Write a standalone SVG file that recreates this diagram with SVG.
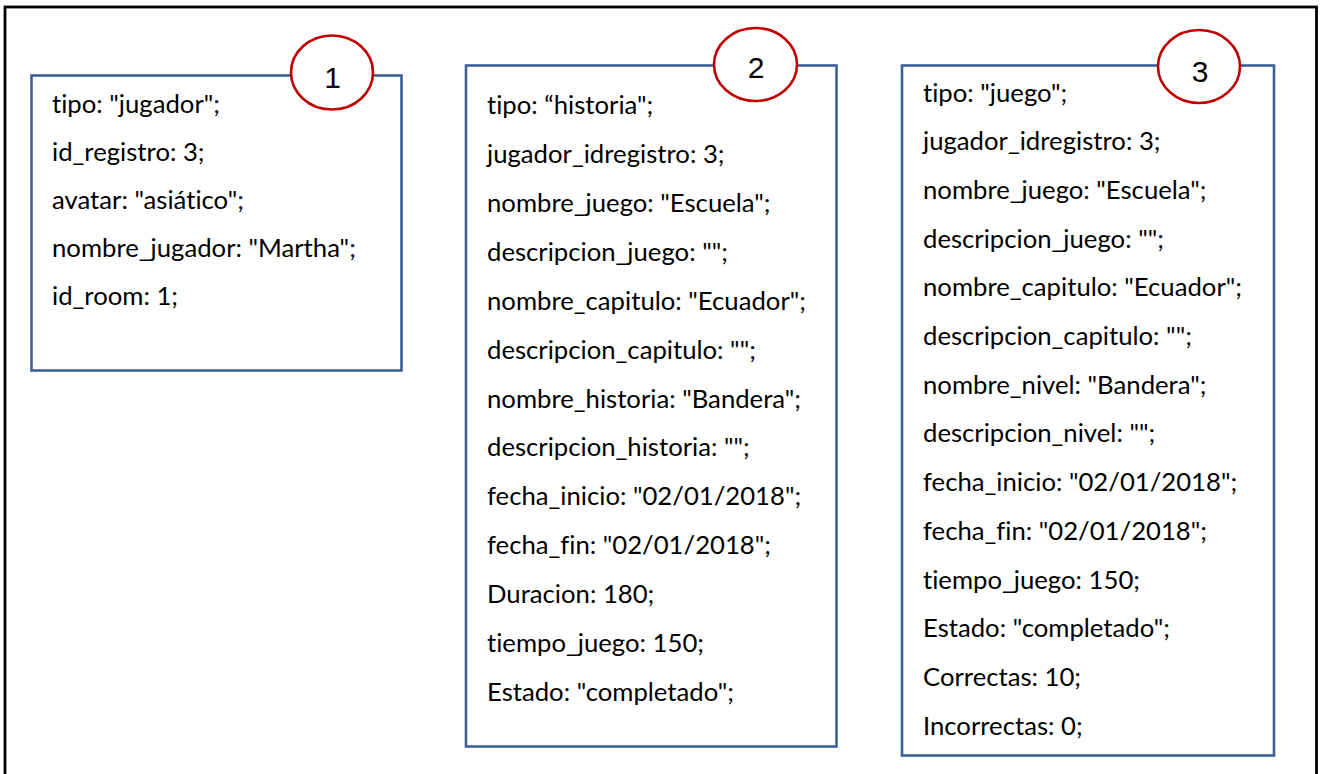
<svg xmlns="http://www.w3.org/2000/svg" width="1324" height="774" viewBox="0 0 1324 774">
  <style>
    .frame { fill: none; stroke: #000; stroke-width: 2.8; }
    .card { fill: #fff; stroke: #3d5f9c; stroke-width: 2.6; }
    .badge { fill: #fff; stroke: #c00000; stroke-width: 2.6; }
    .field { font-family: Lato, "Liberation Sans", sans-serif; font-size: 25.7px; fill: #000;
             font-variant-ligatures: none; font-feature-settings: "liga" 0, "clig" 0; }
    .num { font-family: "Liberation Sans", Arial, sans-serif; font-size: 30px; fill: #000; text-anchor: middle; }
  </style>

  <rect width="1324" height="774" fill="#fff"/>
  <rect class="frame" x="5" y="7" width="1311.5" height="800"/>

  <g id="node-jugador">
    <rect class="card" x="31.5" y="75.5" width="370" height="295"/>
    <ellipse class="badge" cx="332" cy="72.5" rx="41" ry="37"/>
    <text class="num" x="332.5" y="88">1</text>
    <text class="field" x="52">
      <tspan x="52" y="113">tipo: "jugador";</tspan>
      <tspan x="52" y="161">id_registro: 3;</tspan>
      <tspan x="52" y="209">avatar: "asiático";</tspan>
      <tspan x="52" y="257">nombre_jugador: "Martha";</tspan>
      <tspan x="52" y="305">id_room: 1;</tspan>
    </text>
  </g>

  <g id="node-historia">
    <rect class="card" x="466" y="65.5" width="370.5" height="681"/>
    <ellipse class="badge" cx="755.5" cy="64.5" rx="41.5" ry="36.5"/>
    <text class="num" x="756" y="77.5">2</text>
    <text class="field" x="487">
      <tspan x="487" y="114">tipo: “historia";</tspan>
      <tspan x="487" y="163">jugador_idregistro: 3;</tspan>
      <tspan x="487" y="212">nombre_juego: "Escuela";</tspan>
      <tspan x="487" y="260.5">descripcion_juego: "";</tspan>
      <tspan x="487" y="309.5">nombre_capitulo: "Ecuador";</tspan>
      <tspan x="487" y="358.5">descripcion_capitulo: "";</tspan>
      <tspan x="487" y="407.5">nombre_historia: "Bandera";</tspan>
      <tspan x="487" y="456">descripcion_historia: "";</tspan>
      <tspan x="487" y="505">fecha_inicio: "02/01/2018";</tspan>
      <tspan x="487" y="554">fecha_fin: "02/01/2018";</tspan>
      <tspan x="487" y="603">Duracion: 180;</tspan>
      <tspan x="487" y="652">tiempo_juego: 150;</tspan>
      <tspan x="487" y="701">Estado: "completado";</tspan>
    </text>
  </g>

  <g id="node-juego">
    <rect class="card" x="902" y="65.5" width="372" height="690"/>
    <ellipse class="badge" cx="1199" cy="66.5" rx="41" ry="36.5"/>
    <text class="num" x="1200" y="81.5">3</text>
    <text class="field" x="923">
      <tspan x="923" y="101.5">tipo: "juego";</tspan>
      <tspan x="923" y="150.2">jugador_idregistro: 3;</tspan>
      <tspan x="923" y="198.9">nombre_juego: "Escuela";</tspan>
      <tspan x="923" y="247.6">descripcion_juego: "";</tspan>
      <tspan x="923" y="296.3">nombre_capitulo: "Ecuador";</tspan>
      <tspan x="923" y="345">descripcion_capitulo: "";</tspan>
      <tspan x="923" y="393.7">nombre_nivel: "Bandera";</tspan>
      <tspan x="923" y="442.4">descripcion_nivel: "";</tspan>
      <tspan x="923" y="491.1">fecha_inicio: "02/01/2018";</tspan>
      <tspan x="923" y="539.8">fecha_fin: "02/01/2018";</tspan>
      <tspan x="923" y="588.5">tiempo_juego: 150;</tspan>
      <tspan x="923" y="637.2">Estado: "completado";</tspan>
      <tspan x="923" y="685.9">Correctas: 10;</tspan>
      <tspan x="923" y="734.6">Incorrectas: 0;</tspan>
    </text>
  </g>

  <g id="connectors"/>
</svg>
